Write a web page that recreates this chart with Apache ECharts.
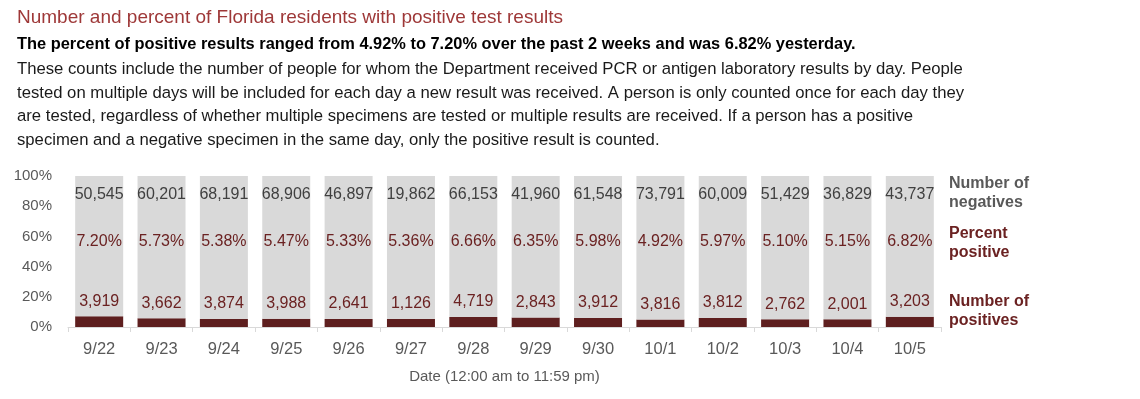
<!DOCTYPE html>
<html>
<head>
<meta charset="utf-8">
<script src="https://cdn.jsdelivr.net/npm/echarts@6/dist/echarts.min.js"></script>
<style>
  html, body { margin: 0; padding: 0; background: #fff; }
  #chart { width: 1140px; height: 399px; }
</style>
</head>
<body>
<div id="chart"></div>
<script>
// data
const dates = ['9/22', '9/23', '9/24', '9/25', '9/26', '9/27', '9/28', '9/29', '9/30', '10/1', '10/2', '10/3', '10/4', '10/5']
const negatives = [50545, 60201, 68191, 68906, 46897, 19862, 66153, 41960, 61548, 73791, 60009, 51429, 36829, 43737]
const positives = [3919, 3662, 3874, 3988, 2641, 1126, 4719, 2843, 3912, 3816, 3812, 2762, 2001, 3203]
const percentPositive = [7.20, 5.73, 5.38, 5.47, 5.33, 5.36, 6.66, 6.35, 5.98, 4.92, 5.97, 5.10, 5.15, 6.82]
const yTicks = [0, 20, 40, 60, 80, 100]

const FONT = 'Liberation Sans'
const DARK_RED = '#6b2222'
const GREY_TEXT = '#595959'

const paragraph = [
  'These counts include the number of people for whom the Department received PCR or antigen laboratory results by day. People',
  'tested on multiple days will be included for each day a new result was received. A person is only counted once for each day they',
  'are tested, regardless of whether multiple specimens are tested or multiple results are received. If a person has a positive',
  'specimen and a negative specimen in the same day, only the positive result is counted.',
].join('\n')

const fmt = n => n.toLocaleString('en-US')

const chart = echarts.init(document.getElementById('chart'))

chart.setOption({
  animation: false,
  textStyle: { fontFamily: FONT },
  title: [
    {
      text: 'Number and percent of Florida residents with positive test results',
      left: 17, top: 8, padding: 0,
      textStyle: { fontFamily: FONT, fontSize: 19, fontWeight: 'normal', color: '#9e3838' },
    },
    {
      text: 'The percent of positive results ranged from 4.92% to 7.20% over the past 2 weeks and was 6.82% yesterday.',
      left: 17, top: 36, padding: 0,
      textStyle: { fontFamily: FONT, fontSize: 16.4, fontWeight: 'bold', color: '#000' },
    },
    {
      text: paragraph,
      left: 17, top: 58, padding: 0,
      textStyle: { fontFamily: FONT, fontSize: 16.7, fontWeight: 'normal', color: '#1a1a1a', lineHeight: 23.5 },
    },
  ],
  grid: { left: 68, right: 199, top: 176, bottom: 72 },
  xAxis: {
    type: 'category',
    data: dates,
    name: 'Date (12:00 am to 11:59 pm)',
    nameLocation: 'middle',
    nameGap: 42,
    nameTextStyle: { fontFamily: FONT, fontSize: 15, color: GREY_TEXT },
    axisLine: { lineStyle: { color: '#d9d9d9', width: 1 } },
    axisTick: { show: true, length: 5, lineStyle: { color: '#d9d9d9' } },
    axisLabel: { fontFamily: FONT, fontSize: 16.5, color: GREY_TEXT, margin: 14 },
  },
  yAxis: {
    type: 'value',
    min: yTicks[0],
    max: yTicks[yTicks.length - 1],
    interval: 20,
    splitLine: { show: false },
    axisLine: { show: false },
    axisTick: { show: false },
    axisLabel: { fontFamily: FONT, fontSize: 15, color: GREY_TEXT, margin: 16, formatter: '{value}%' },
  },
  series: [
    {
      name: 'positives',
      type: 'bar',
      stack: 'all',
      barWidth: 48,
      data: percentPositive,
      itemStyle: { color: '#5e1f1f' },
      label: {
        show: true,
        position: 'top',
        distance: 7,
        fontFamily: FONT,
        fontSize: 16,
        color: DARK_RED,
        formatter: p => fmt(positives[p.dataIndex]),
      },
    },
    {
      name: 'negatives',
      type: 'bar',
      stack: 'all',
      barWidth: 48,
      data: percentPositive.map(v => 100 - v),
      itemStyle: { color: '#d9d9d9' },
      label: {
        show: true,
        position: 'insideTop',
        distance: 2,
        formatter: p => `{n|${fmt(negatives[p.dataIndex])}}\n{p|${percentPositive[p.dataIndex].toFixed(2)}%}`,
        rich: {
          n: { fontFamily: FONT, fontSize: 16, color: '#404040', lineHeight: 34 },
          p: { fontFamily: FONT, fontSize: 16, color: DARK_RED, lineHeight: 60 },
        },
      },
    },
  ],
  graphic: [
    { type: 'text', left: 949, top: 174, style: { text: 'Number of\nnegatives', fill: GREY_TEXT, font: `bold 16px "${FONT}"`, lineHeight: 19 } },
    { type: 'text', left: 949, top: 224, style: { text: 'Percent\npositive', fill: DARK_RED, font: `bold 16px "${FONT}"`, lineHeight: 19 } },
    { type: 'text', left: 949, top: 292, style: { text: 'Number of\npositives', fill: DARK_RED, font: `bold 16px "${FONT}"`, lineHeight: 19 } },
  ],
})
</script>
</body>
</html>
